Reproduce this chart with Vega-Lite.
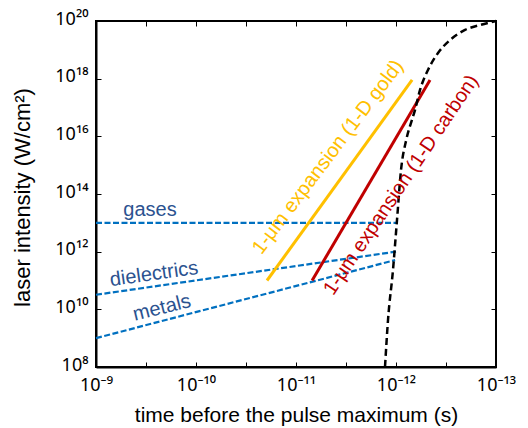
{
  "$schema": "https://vega.github.io/schema/vega-lite/v6.json",
  "width": 400,
  "height": 346,
  "autosize": "none",
  "padding": {"left": 96, "top": 21, "right": 32, "bottom": 61},
  "background": "white",
  "config": {
    "view": {"stroke": "black", "strokeWidth": 2},
    "font": "Liberation Sans",
    "axis": {"grid": false, "labelFont": "Noto Sans", "titleFont": "Liberation Sans", "labelColor": "black", "titleColor": "black", "tickColor": "black", "domainColor": "black", "labelOverlap": false, "labelFlush": false}
  },
  "datasets": {
    "lines": [
      {"s": "gases", "i": 0, "x": 1e-9, "y": 1e13},
      {"s": "gases", "i": 1, "x": 1e-12, "y": 1e13},
      {"s": "dielectrics", "i": 0, "x": 1e-9, "y": 3.2e10},
      {"s": "dielectrics", "i": 1, "x": 1e-12, "y": 1e12},
      {"s": "metals", "i": 0, "x": 1e-9, "y": 1e9},
      {"s": "metals", "i": 1, "x": 1.02e-12, "y": 5.1e11}
    ],
    "gold": [
      {"i": 0, "x": 1.95e-11, "y": 1.0e11},
      {"i": 1, "x": 6.9e-13, "y": 9.0e17}
    ],
    "carbon": [
      {"i": 0, "x": 6.9e-12, "y": 1.0e11},
      {"i": 1, "x": 4.57e-13, "y": 9.0e17}
    ],
    "pulse": [
      {"i": 0, "x": 1.288e-12, "y": 1e8},
      {"i": 1, "x": 1.202e-12, "y": 4.27e9},
      {"i": 2, "x": 1.072e-12, "y": 2.29e11},
      {"i": 3, "x": 9.77e-13, "y": 1.26e13},
      {"i": 4, "x": 8.91e-13, "y": 6.76e14},
      {"i": 5, "x": 7.9e-13, "y": 7.5e15},
      {"i": 6, "x": 6.92e-13, "y": 3.72e16},
      {"i": 7, "x": 6.46e-13, "y": 8.13e16},
      {"i": 8, "x": 5.75e-13, "y": 4.07e17},
      {"i": 9, "x": 4.79e-13, "y": 2.0e18},
      {"i": 10, "x": 3.8e-13, "y": 7.76e18},
      {"i": 11, "x": 2.88e-13, "y": 2.19e19},
      {"i": 12, "x": 2.04e-13, "y": 4.9e19},
      {"i": 13, "x": 1.45e-13, "y": 7.24e19},
      {"i": 14, "x": 1.0e-13, "y": 1.0e20}
    ],
    "gasesLabel": [{"t": "gases", "x": 2.88e-10, "y": 2.8e13}],
    "dielLabel": [{"t": "dielectrics", "x": 2.63e-10, "y": 1.68e11}],
    "metalLabel": [{"t": "metals", "x": 2.19e-10, "y": 1.12e10}],
    "goldLabel": [{"t": "1-μm expansion (1-D gold)", "x": 4.79e-12, "y": 1.9e15}],
    "carbonLabel": [{"t": "1-μm expansion (1-D carbon)", "x": 8.9e-13, "y": 2.05e14}]
  },
  "resolve": {"axis": {"x": "independent", "y": "independent"}},
  "layer": [
    {
      "data": {"name": "lines"},
      "mark": {"type": "line", "color": "#0070C0", "strokeWidth": 2.2, "strokeDash": [6, 2.5]},
      "encoding": {
        "x": {
          "field": "x", "type": "quantitative",
          "scale": {"type": "log", "domain": [1e-13, 1e-9], "reverse": true},
          "axis": {
            "orient": "bottom",
            "values": [1e-9, 3.1623e-10, 1e-10, 3.1623e-11, 1e-11, 3.1623e-12, 1e-12, 3.1623e-13, 1e-13],
            "labelExpr": "abs(log(datum.value)/LN10 - round(log(datum.value)/LN10)) > 0.1 ? '' : (round(log(datum.value)/LN10) == -9 ? '10⁻⁹' : round(log(datum.value)/LN10) == -10 ? '10⁻¹⁰' : round(log(datum.value)/LN10) == -11 ? '10⁻¹¹' : round(log(datum.value)/LN10) == -12 ? '10⁻¹²' : '10⁻¹³')",
            "tickSize": -5, "tickWidth": 1, "domainWidth": 2,
            "labelFontSize": 18, "labelPadding": 14, "labelBaseline": "top",
            "title": "time before the pulse maximum (s)",
            "titleFontSize": 21, "titleFontWeight": "normal",
            "titleX": 200, "titleY": 54, "titleBaseline": "alphabetic", "titleAlign": "center"
          }
        },
        "y": {
          "field": "y", "type": "quantitative",
          "scale": {"type": "log", "domain": [1e8, 1e20]},
          "axis": {
            "orient": "left",
            "values": [1e8, 1e10, 1e12, 1e14, 1e16, 1e18, 1e20],
            "labelExpr": "['10⁸','10¹⁰','10¹²','10¹⁴','10¹⁶','10¹⁸','10²⁰'][round((log(datum.value)/LN10 - 8)/2)]",
            "tickSize": -5, "tickWidth": 1, "domainWidth": 2,
            "labelFontSize": 18, "labelPadding": 13, "labelBaseline": "middle", "labelOffset": -2,
            "title": "laser intensity (W/cm²)",
            "titleFontSize": 22, "titleFontWeight": "normal",
            "titleX": -67, "titleY": 176, "titleBaseline": "alphabetic", "titleAlign": "center", "titleAngle": -90
          }
        },
        "detail": {"field": "s"},
        "order": {"field": "i"}
      }
    },
    {
      "data": {"name": "gold"},
      "mark": {"type": "line", "color": "#FFC000", "strokeWidth": 3},
      "encoding": {
        "x": {
          "field": "x", "type": "quantitative",
          "axis": {
            "orient": "top",
            "values": [1e-9, 3.1623e-10, 1e-10, 3.1623e-11, 1e-11, 3.1623e-12, 1e-12, 3.1623e-13, 1e-13],
            "labels": false, "domain": false, "tickSize": -5, "tickWidth": 1, "title": null
          }
        },
        "y": {
          "field": "y", "type": "quantitative",
          "axis": {
            "orient": "right",
            "values": [1e8, 1e10, 1e12, 1e14, 1e16, 1e18, 1e20],
            "labels": false, "domain": false, "tickSize": -5, "tickWidth": 1, "title": null
          }
        },
        "order": {"field": "i"}
      }
    },
    {
      "data": {"name": "carbon"},
      "mark": {"type": "line", "color": "#C00000", "strokeWidth": 3},
      "encoding": {
        "x": {"field": "x", "type": "quantitative", "axis": null},
        "y": {"field": "y", "type": "quantitative", "axis": null},
        "order": {"field": "i"}
      }
    },
    {
      "data": {"name": "pulse"},
      "mark": {"type": "line", "color": "black", "strokeWidth": 2.5, "strokeDash": [7, 4], "interpolate": "monotone"},
      "encoding": {
        "x": {"field": "x", "type": "quantitative", "axis": null},
        "y": {"field": "y", "type": "quantitative", "axis": null},
        "order": {"field": "i"}
      }
    },
    {
      "data": {"name": "gasesLabel"},
      "mark": {"type": "text", "color": "#2B5290", "fontSize": 20, "align": "center", "baseline": "middle"},
      "encoding": {
        "x": {"field": "x", "type": "quantitative", "axis": null},
        "y": {"field": "y", "type": "quantitative", "axis": null},
        "text": {"field": "t"}
      }
    },
    {
      "data": {"name": "dielLabel"},
      "mark": {"type": "text", "color": "#2B5290", "fontSize": 20, "align": "center", "baseline": "middle", "angle": -8},
      "encoding": {
        "x": {"field": "x", "type": "quantitative", "axis": null},
        "y": {"field": "y", "type": "quantitative", "axis": null},
        "text": {"field": "t"}
      }
    },
    {
      "data": {"name": "metalLabel"},
      "mark": {"type": "text", "color": "#2B5290", "fontSize": 20, "align": "center", "baseline": "middle", "angle": -14},
      "encoding": {
        "x": {"field": "x", "type": "quantitative", "axis": null},
        "y": {"field": "y", "type": "quantitative", "axis": null},
        "text": {"field": "t"}
      }
    },
    {
      "data": {"name": "goldLabel"},
      "mark": {"type": "text", "color": "#FFC000", "fontSize": 20, "align": "center", "baseline": "middle", "angle": -53},
      "encoding": {
        "x": {"field": "x", "type": "quantitative", "axis": null},
        "y": {"field": "y", "type": "quantitative", "axis": null},
        "text": {"field": "t"}
      }
    },
    {
      "data": {"name": "carbonLabel"},
      "mark": {"type": "text", "color": "#C00000", "fontSize": 20, "align": "center", "baseline": "middle", "angle": -56},
      "encoding": {
        "x": {"field": "x", "type": "quantitative", "axis": null},
        "y": {"field": "y", "type": "quantitative", "axis": null},
        "text": {"field": "t"}
      }
    }
  ]
}
